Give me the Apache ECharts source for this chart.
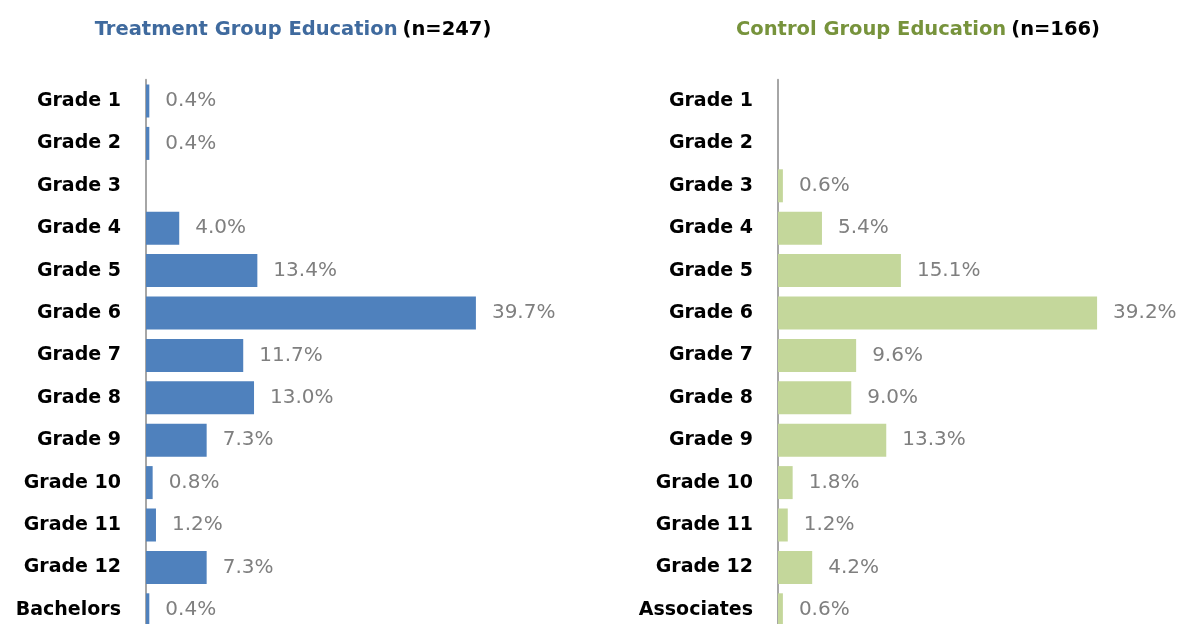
<!DOCTYPE html>
<html>
<head>
<meta charset="utf-8">
<script src="https://cdn.jsdelivr.net/npm/echarts@6/dist/echarts.min.js"></script>
<style>
  html, body { margin: 0; padding: 0; background: #fff; overflow: hidden; }
  #chart { width: 1183px; height: 640px; }
</style>
</head>
<body>
<div id="chart"></div>
<script>
// category labels for each panel
var treatmentCats = ['Grade 1', 'Grade 2', 'Grade 3', 'Grade 4', 'Grade 5', 'Grade 6', 'Grade 7',
    'Grade 8', 'Grade 9', 'Grade 10', 'Grade 11', 'Grade 12', 'Bachelors'];
var controlCats = ['Grade 1', 'Grade 2', 'Grade 3', 'Grade 4', 'Grade 5', 'Grade 6', 'Grade 7',
    'Grade 8', 'Grade 9', 'Grade 10', 'Grade 11', 'Grade 12', 'Associates'];
// percent values
var treatmentVals = [0.4, 0.4, 0, 4.0, 13.4, 39.7, 11.7, 13.0, 7.3, 0.8, 1.2, 7.3, 0.4];
var controlVals = [0, 0, 0.6, 5.4, 15.1, 39.2, 9.6, 9.0, 13.3, 1.8, 1.2, 4.2, 0.6];

var font = 'DejaVu Sans';

function pctLabel(p) {
    return p.value > 0 ? p.value.toFixed(1) + '%' : '';
}

function yAxisFor(idx, cats) {
    return {
        type: 'category',
        gridIndex: idx,
        data: cats,
        inverse: true,
        axisTick: {show: false},
        axisLine: {lineStyle: {color: '#A6A6A6', width: 2}},
        axisLabel: {
            margin: 25,
            color: '#000',
            fontFamily: font,
            fontWeight: 'bold',
            fontSize: 19
        }
    };
}

function xAxisFor(idx) {
    return {
        type: 'value',
        gridIndex: idx,
        min: 0,
        max: 40,
        show: false,
        splitLine: {show: false}
    };
}

function seriesFor(idx, vals, color) {
    return {
        type: 'bar',
        xAxisIndex: idx,
        yAxisIndex: idx,
        data: vals,
        barWidth: 33,
        itemStyle: {color: color},
        label: {
            show: true,
            position: 'right',
            distance: 16,
            formatter: pctLabel,
            color: '#7F7F7F',
            fontFamily: font,
            fontSize: 20
        },
        silent: true
    };
}

function titleFor(x, name, n, color) {
    return {
        text: '{a|' + name + '} {b|' + n + '}',
        left: x, top: 15, textAlign: 'center',
        textStyle: {
            rich: {
                a: {color: color, fontFamily: font, fontWeight: 'bold', fontSize: 19.5},
                b: {color: '#000', fontFamily: font, fontWeight: 'bold', fontSize: 19.5}
            }
        }
    };
}

var chart = echarts.init(document.getElementById('chart'));
chart.setOption({
    animation: false,
    title: [
        titleFor(288, 'Treatment Group Education', '(n=247)', '#3F6A9E'),
        titleFor(913, 'Control Group Education', '(n=166)', '#77933C')
    ],
    grid: [
        {left: 146, width: 332.4, top: 79.8, height: 551.2},
        {left: 778, width: 325.6, top: 79.8, height: 551.2}
    ],
    xAxis: [xAxisFor(0), xAxisFor(1)],
    yAxis: [yAxisFor(0, treatmentCats), yAxisFor(1, controlCats)],
    series: [
        seriesFor(0, treatmentVals, '#4F81BD'),
        seriesFor(1, controlVals, '#C4D79B')
    ]
});
</script>
</body>
</html>
